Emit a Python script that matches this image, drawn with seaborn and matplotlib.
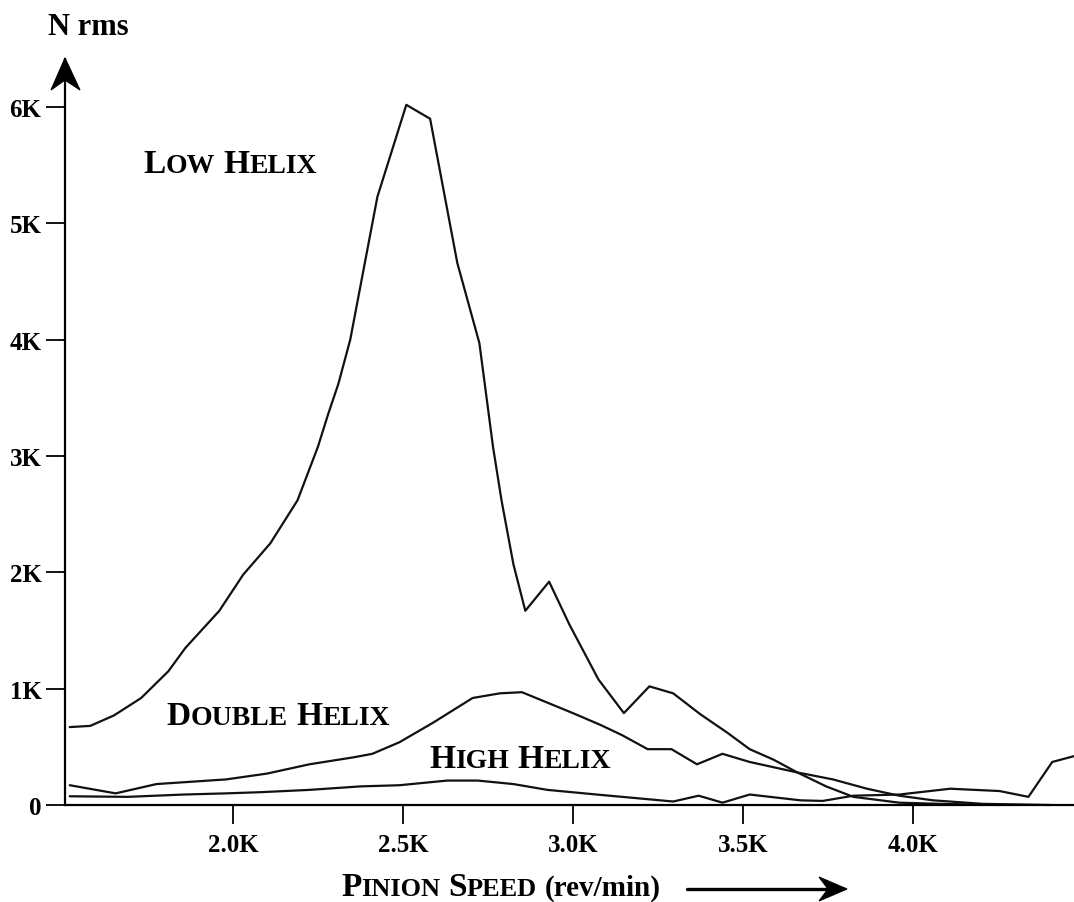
import matplotlib
matplotlib.use("Agg")
import matplotlib.pyplot as plt
from matplotlib.patches import Polygon
import seaborn as sns
import pandas as pd

# ---------------- data ----------------
series_names = ["Low Helix", "Double Helix", "High Helix"]

low_speed = [1520, 1580, 1650, 1730, 1810, 1860, 1960, 2030, 2110, 2190, 2250,
             2280, 2310, 2345, 2425, 2510, 2580, 2620, 2660, 2725, 2765, 2790,
             2825, 2860, 2930, 2990, 3075, 3150, 3225, 3295, 3375, 3455, 3520,
             3590, 3660, 3745, 3825, 3960, 4080, 4255]
low_force = [670, 680, 770, 920, 1150, 1350, 1670, 1980, 2250, 2620, 3080,
             3360, 3620, 4000, 5230, 6020, 5900, 5280, 4660, 3970, 3080, 2620,
             2070, 1670, 1920, 1550, 1080, 790, 1020, 960, 780, 620, 480,
             390, 280, 160, 70, 20, 10, 0]

double_speed = [1520, 1655, 1775, 1980, 2100, 2225, 2355, 2410, 2490, 2590,
                2705, 2785, 2850, 2925, 3000, 3080, 3145, 3220, 3290, 3365,
                3440, 3520, 3660, 3765, 3865, 3960, 4060, 4205, 4405]
double_force = [170, 100, 180, 220, 270, 350, 410, 440, 540, 710,
                920, 960, 970, 880, 790, 690, 600, 480, 480, 350,
                440, 370, 280, 220, 140, 80, 40, 10, 0]

high_speed = [1520, 1690, 1855, 1980, 2080, 2225, 2375, 2490, 2630, 2720,
              2825, 2925, 3070, 3220, 3295, 3370, 3440, 3520, 3670, 3735,
              3825, 3960, 4110, 4255, 4340, 4410, 4474]
high_force = [75, 70, 90, 100, 110, 130, 160, 170, 210, 210,
              180, 130, 90, 50, 30, 80, 20, 90, 40, 35,
              80, 90, 140, 120, 70, 370, 420]

x_ticks = [2000, 2500, 3000, 3500, 4000]
x_tick_labels = ["2.0K", "2.5K", "3.0K", "3.5K", "4.0K"]
y_ticks = [0, 1000, 2000, 3000, 4000, 5000, 6000]
y_tick_labels = ["0", "1K", "2K", "3K", "4K", "5K", "6K"]

# ---------------- figure ----------------
sns.set_theme(style="ticks")
plt.rcParams["font.family"] = ["Liberation Serif", "DejaVu Serif"]

W, H = 1074, 903
fig = plt.figure(figsize=(W / 100, H / 100), dpi=100)
fig.patch.set_facecolor("white")
ax = fig.add_axes([65 / W, 1 - 806 / H, 1 - 65 / W, (806 - 60) / H])
ax.set_facecolor("white")

df = pd.concat([
    pd.DataFrame({"speed": low_speed, "force": low_force, "series": series_names[0]}),
    pd.DataFrame({"speed": double_speed, "force": double_force, "series": series_names[1]}),
    pd.DataFrame({"speed": high_speed, "force": high_force, "series": series_names[2]}),
], ignore_index=True)

sns.lineplot(data=df, x="speed", y="force", hue="series",
             palette={n: "#111111" for n in series_names},
             estimator=None, sort=False, legend=False, linewidth=1.6, ax=ax)
for ln in ax.lines:
    ln.set_clip_on(False)

ax.set_xlim(1506, 4474)
ax.set_ylim(0, 6414)
ax.set_xticks(x_ticks)
ax.set_xticklabels(x_tick_labels)
ax.set_yticks(y_ticks)
ax.set_yticklabels(y_tick_labels)
ax.set_xlabel("")
ax.set_ylabel("")
ax.tick_params(axis="both", direction="out", length=13.5, width=1.3,
               color="black", labelcolor="black", labelsize=18)
ax.tick_params(axis="x", pad=7)
ax.tick_params(axis="y", pad=3.5)
for lbl in ax.get_xticklabels() + ax.get_yticklabels():
    lbl.set_fontweight("bold")

sns.despine(ax=ax)
for s in ("left", "bottom"):
    ax.spines[s].set_color("black")
    ax.spines[s].set_linewidth(1.6)


def px(x, y):
    return (x / W, 1 - y / H)


# y axis arrowhead (swept, notched)
fig.add_artist(Polygon([px(65, 59), px(80, 91), px(65, 81), px(51, 91)],
                       closed=True, transform=fig.transFigure,
                       facecolor="black", edgecolor="black", lw=0.8))

# ---------------- texts ----------------
renderer = fig.canvas.get_renderer()


def put(x, y, s, size):
    t = fig.text(x / W, 1 - y / H, s, fontsize=size, fontweight="bold",
                 va="baseline", ha="left", color="black")
    return t.get_window_extent(renderer).width


def smallcaps(x, y, parts, big=24, small=20, gap=9):
    for s, kind in parts:
        if kind == "gap":
            x += gap
        elif kind == "B":
            x += put(x, y, s, big)
        elif kind == "s":
            x += put(x, y, s, small)
        else:
            x += put(x, y, s, kind)


put(48, 35, "N rms", 22)
smallcaps(143, 173, [("L", "B"), ("OW", "s"), ("", "gap"), ("H", "B"), ("ELIX", "s")])
smallcaps(166, 725, [("D", "B"), ("OUBLE", "s"), ("", "gap"), ("H", "B"), ("ELIX", "s")])
smallcaps(429, 768, [("H", "B"), ("IGH", "s"), ("", "gap"), ("H", "B"), ("ELIX", "s")])
smallcaps(341, 896, [("P", "B"), ("INION", "s"), ("", "gap"), ("S", "B"), ("PEED", "s"),
                     ("", "gap"), ("(rev/min)", 21)], small=19, gap=8)

# x label arrow
fig.add_artist(plt.Line2D([687 / W, 832 / W], [1 - 890 / H, 1 - 890 / H],
                          transform=fig.transFigure, color="black", lw=2.4))
fig.add_artist(Polygon([px(847, 890), px(819, 878), px(828, 890), px(819, 902)],
                       closed=True, transform=fig.transFigure,
                       facecolor="black", edgecolor="black", lw=0.8))

fig.savefig("out.png", dpi=100, facecolor="white")
